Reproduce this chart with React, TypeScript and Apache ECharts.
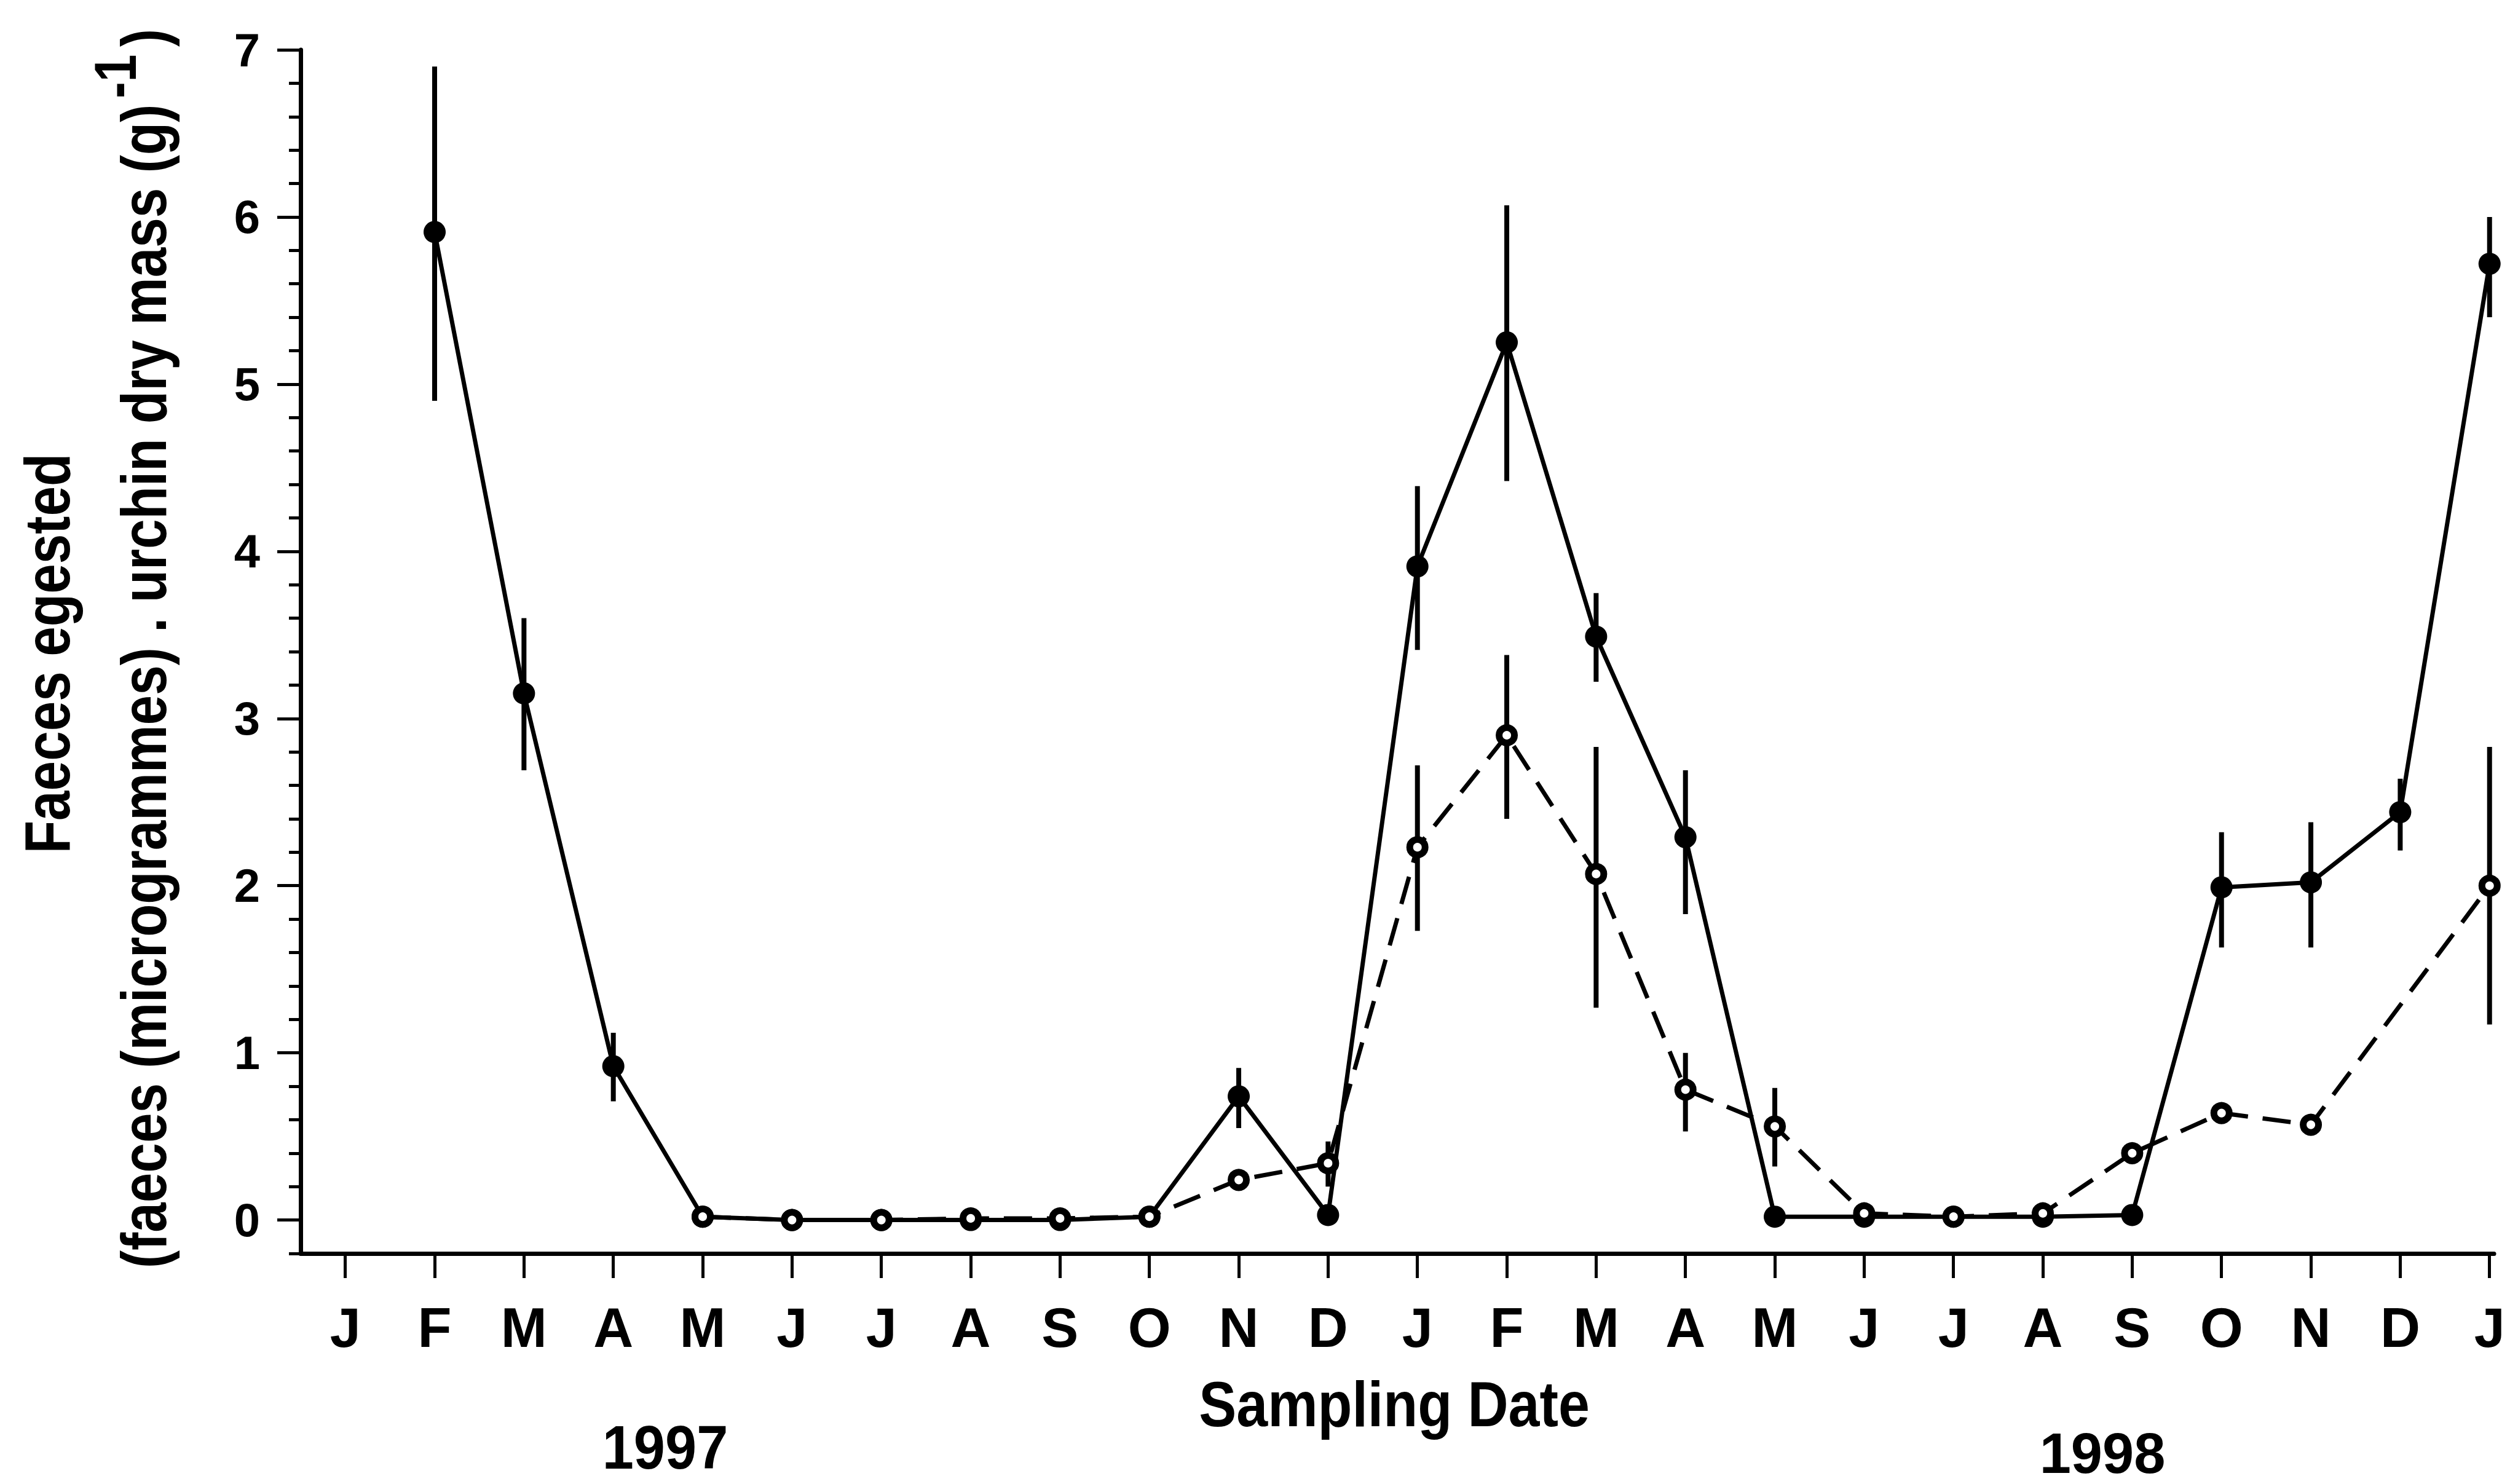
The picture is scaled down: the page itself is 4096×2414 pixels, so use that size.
import React, { useEffect, useRef } from "react";
import * as echarts from "echarts";

// Month index 0 = Jan 1997 ... 24 = Jan 1999
const MONTHS = ["J", "F", "M", "A", "M", "J", "J", "A", "S", "O", "N", "D", "J", "F", "M", "A", "M", "J", "J", "A", "S", "O", "N", "D", "J"];

// Solid line, filled circles
const fedMean = [null, 5.91, 3.15, 0.92, 0.02, 0.0, 0.0, 0.0, 0.0, 0.02, 0.74, 0.03, 3.91, 5.25, 3.49, 2.29, 0.02, 0.02, 0.02, 0.02, 0.03, 1.99, 2.02, 2.44, 5.72];
const fedLow = [null, 4.9, 2.69, 0.71, null, null, null, null, null, null, 0.55, null, 3.41, 4.42, 3.22, 1.83, null, null, null, null, null, 1.63, 1.63, 2.21, 5.4];
const fedHigh = [null, 6.9, 3.6, 1.12, null, null, null, null, null, null, 0.91, null, 4.39, 6.07, 3.75, 2.69, null, null, null, null, null, 2.32, 2.38, 2.64, 6.0];

// Dashed line, open circles
const openMean = [null, null, null, null, 0.02, 0.0, 0.0, 0.01, 0.01, 0.02, 0.24, 0.34, 2.23, 2.9, 2.07, 0.78, 0.56, 0.04, 0.02, 0.04, 0.4, 0.64, 0.57, null, 2.0];
const openLow = [null, null, null, null, null, null, null, null, null, null, null, 0.2, 1.73, 2.4, 1.27, 0.53, 0.32, null, null, null, null, null, null, null, 1.17];
const openHigh = [null, null, null, null, null, null, null, null, null, null, null, 0.47, 2.72, 3.38, 2.83, 1.0, 0.79, null, null, null, null, null, null, null, 2.83];

const Y_MAJOR = [0, 1, 2, 3, 4, 5, 6, 7];
const MONTH_TICKS = MONTHS.map((_, i) => i);

const FONT = "'Liberation Sans', Arial, Helvetica, sans-serif";

function pairs(vals: (number | null)[]) {
  return vals.map((v, i) => [i, v]);
}

function bars(lo: (number | null)[], hi: (number | null)[]) {
  const out: number[][] = [];
  lo.forEach((l, i) => {
    const h = hi[i];
    if (l != null && h != null) out.push([i, l, h]);
  });
  return out;
}

function renderBar(_params: any, api: any) {
  const x = api.value(0);
  const a = api.coord([x, api.value(1)]);
  const b = api.coord([x, api.value(2)]);
  return {
    type: "line",
    shape: { x1: a[0], y1: a[1], x2: b[0], y2: b[1] },
    style: { stroke: "#000", lineWidth: 8 },
  };
}

// Condensed bold text: scaleX narrows the glyphs along the reading direction
function label(text: string, x: number, y: number, size: number, squeeze: number, align: string, vertical: boolean) {
  return {
    type: "text",
    x,
    y,
    rotation: vertical ? Math.PI / 2 : 0,
    scaleX: squeeze,
    style: {
      text,
      fill: "#000",
      font: `bold ${size}px ${FONT}`,
      align,
      verticalAlign: "middle",
    },
  };
}

export default function App() {
  const ref = useRef<HTMLDivElement>(null);

  useEffect(() => {
    document.body.style.margin = "0";
    const chart = echarts.init(ref.current!, null, { renderer: "svg" });

    chart.setOption({
      animation: false,
      backgroundColor: "#fff",
      grid: { left: 489, right: 39, top: 81, bottom: 375, containLabel: false },
      xAxis: {
        type: "value",
        min: -0.5,
        max: 24.05,
        axisLine: { show: true, onZero: false, lineStyle: { color: "#000", width: 7 } },
        axisTick: { show: true, customValues: MONTH_TICKS, length: 40, lineStyle: { color: "#000", width: 5 } },
        axisLabel: {
          customValues: MONTH_TICKS,
          formatter: (v: number) => MONTHS[Math.round(v)],
          color: "#000",
          fontFamily: FONT,
          fontWeight: "bold",
          fontSize: 90,
          margin: 76,
        },
        splitLine: { show: false },
      },
      yAxis: [
        {
          type: "value",
          min: -0.2,
          max: 7,
          interval: 0.2,
          axisLine: { show: true, onZero: false, lineStyle: { color: "#000", width: 7 } },
          axisTick: { show: true, length: 19, lineStyle: { color: "#000", width: 5 } },
          axisLabel: {
            customValues: Y_MAJOR,
            color: "#000",
            fontFamily: FONT,
            fontWeight: "bold",
            fontSize: 76,
            margin: 66,
          },
          splitLine: { show: false },
        },
        {
          type: "value",
          min: -0.2,
          max: 7,
          position: "left",
          axisLine: { show: false, onZero: false },
          axisTick: { show: true, customValues: Y_MAJOR, length: 38, lineStyle: { color: "#000", width: 5 } },
          axisLabel: { show: false },
          splitLine: { show: false },
        },
      ],
      series: [
        {
          type: "custom",
          renderItem: renderBar,
          data: bars(fedLow, fedHigh),
          z: 1,
          silent: true,
        },
        {
          type: "custom",
          renderItem: renderBar,
          data: bars(openLow, openHigh),
          z: 1,
          silent: true,
        },
        {
          type: "line",
          data: pairs(fedMean),
          connectNulls: true,
          symbol: "circle",
          symbolSize: 36,
          lineStyle: { color: "#000", width: 7, type: "solid" },
          itemStyle: { color: "#000", borderWidth: 0 },
          z: 2,
        },
        {
          type: "line",
          data: pairs(openMean),
          connectNulls: true,
          symbol: "circle",
          symbolSize: 25,
          lineStyle: { color: "#000", width: 7, type: [46, 24] },
          itemStyle: { color: "#fff", borderColor: "#000", borderWidth: 11 },
          z: 3,
        },
      ],
      graphic: [
        label("Faeces egested", 77, 1063, 104, 0.84, "center", true),
        label("(faeces (microgrammes) . urchin dry mass (g)", 234, 2063, 104, 0.84, "left", true),
        label("-1", 188, 160, 96, 0.84, "left", true),
        label(")", 234, 76, 104, 0.84, "left", true),
        label("1997", 1082, 2354, 100, 0.92, "center", false),
        label("Sampling Date", 2268, 2284, 104, 0.88, "center", false),
        label("1998", 3420, 2364, 92, 1.0, "center", false),
      ],
    });

    return () => chart.dispose();
  }, []);

  return <div ref={ref} style={{ width: 4096, height: 2414 }} />;
}
